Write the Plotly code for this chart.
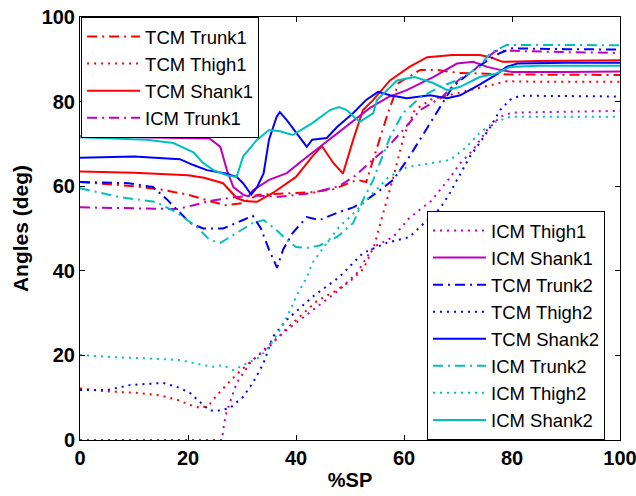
import plotly.graph_objects as go

# Joint angle trajectories over the stance phase (%SP)
tcm_trunk1_x = [0, 5, 10, 15, 20, 24, 27, 30, 33, 38, 43, 47, 51.3, 53, 55.5, 56.8, 59, 63, 66, 70, 80, 90, 100]
tcm_trunk1_y = [61, 60.5, 60, 59.2, 58, 56.5, 55.5, 56, 58, 58.3, 58.6, 59.3, 61.5, 61, 71, 76.4, 84.4, 87.5, 87.5, 86.8, 86.4, 86.3, 86.3]

tcm_thigh1_x = [0, 5, 10, 15, 18, 21, 22.5, 24, 26, 29, 32, 35, 38, 41, 44, 47, 50, 52.5, 54.5, 56, 58, 60, 62, 65, 70, 75, 79, 85, 100]
tcm_thigh1_y = [12.2, 11.5, 11.2, 10.5, 9.5, 8, 7.5, 8.5, 11.5, 15.5, 19, 22, 26, 29.5, 33, 35, 37.5, 40.5, 46, 53, 62, 72, 78, 80.5, 82, 83.5, 84.8, 84.7, 84.7]

tcm_shank1_x = [0, 10, 20, 23, 26.5, 29, 30.5, 32.8, 35.7, 40, 43, 44.8, 46.9, 48.7, 50.6, 52.4, 54.3, 57.4, 61, 64.3, 69, 74, 76, 78.3, 85, 100]
tcm_shank1_y = [63.5, 63.2, 62.6, 62, 60.7, 57.2, 56.5, 56.3, 58.4, 62.2, 67, 69.5, 65.5, 63, 71, 78, 80.4, 85, 88.2, 90.5, 91, 91, 90.5, 89.4, 89.6, 89.8]

icm_trunk1_x = [0, 10, 18, 21, 24, 28, 32, 37, 43, 48, 51, 54, 57, 60, 63, 67, 70, 73, 75.5, 77, 80, 90, 100]
icm_trunk1_y = [55, 54.8, 54.6, 55.5, 56.5, 57.3, 57.8, 57.5, 58.4, 60, 62.5, 66, 69.3, 73.5, 78, 81, 85, 87.5, 90.5, 92, 92, 91.7, 91.5]

icm_thigh1_x = [0, 26.3, 26.6, 27, 27.8, 29, 31.5, 34.6, 38.3, 43, 48, 51.3, 54.3, 58, 61, 65, 68.5, 70.4, 72.8, 75.4, 77.8, 80, 90, 100]
icm_thigh1_y = [0, 0, 3, 6, 9, 13.5, 18.2, 22, 26, 30.7, 35.5, 39.5, 45.6, 48, 52.5, 56.5, 62, 65.4, 68.6, 73.3, 76.4, 77.4, 77.6, 77.8]

icm_shank1_x = [0, 10, 20, 24, 26, 27.2, 28.4, 30.2, 31.2, 32, 35, 38.3, 41.3, 44.4, 47.6, 50.6, 53.7, 57, 60.5, 65.4, 69.8, 72.8, 75.4, 77.8, 80, 90, 100]
icm_shank1_y = [71.8, 71.6, 71.5, 71.3, 69.3, 63.8, 59.8, 58, 57.6, 59, 61.5, 63.1, 66.2, 69.3, 72.6, 75.6, 78.5, 81, 82.7, 85.8, 89, 89.4, 88.2, 87.5, 87, 87, 87.1]

tcm_trunk2_x = [0, 5, 9, 13.5, 16, 18, 20.4, 22.8, 26.5, 30.2, 32, 33.5, 35, 36.5, 37.6, 39.4, 42, 44.4, 47.6, 50.6, 53, 55.5, 58, 61, 64, 66.7, 69, 72.2, 74.6, 77.8, 80, 90, 100]
tcm_trunk2_y = [61, 60.8, 60.7, 59.8, 57, 54.4, 51.3, 50, 50, 52, 53, 50, 45, 40.7, 45, 49, 52.7, 52, 53.7, 55, 56.7, 59, 61.5, 67, 73.3, 78.7, 83.5, 86.8, 89, 91.5, 92.6, 92.4, 92.3]

tcm_thigh2_x = [0, 5, 9.3, 15.4, 18.5, 20.4, 22.2, 24, 26, 27.8, 30.2, 32, 34, 35.7, 38.3, 43, 48, 52.4, 56.8, 61, 63.5, 66.7, 68.5, 70.4, 72.2, 74, 76, 77.8, 79.6, 81.5, 90, 100]
tcm_thigh2_y = [11.8, 11.8, 13, 13.5, 12.3, 11.1, 9, 7, 7, 7.6, 10.2, 13.5, 18.2, 24.4, 28.4, 33.8, 38.5, 44.2, 46.6, 48, 51, 54.8, 58.4, 63, 67, 70.2, 74, 78, 80.4, 81.4, 81.3, 81.2]

tcm_shank2_x = [0, 10, 18.5, 21, 23.5, 27, 29, 30.2, 31.7, 32.8, 34, 35, 36.4, 37, 38.3, 40, 42, 43, 45.7, 47.6, 50.6, 53, 55.2, 57.4, 60.5, 64.8, 68, 70.4, 74, 77, 79, 81, 90, 100]
tcm_shank2_y = [66.7, 67, 66.4, 65, 63.8, 63, 62.2, 60.7, 58, 59.8, 63, 71, 76.4, 77.5, 75.6, 72.6, 69.3, 71, 71.4, 74, 77.3, 80.4, 82.3, 81.5, 80.8, 81.5, 80.8, 81.5, 84, 86.3, 88.2, 89, 89.2, 89.2]

icm_trunk2_x = [0, 7.4, 14, 18, 21.6, 24, 26, 27.8, 32, 34, 36.4, 38.3, 40, 42, 44.4, 47.6, 50.6, 52.4, 54.3, 57.4, 59.8, 63, 66.7, 69.8, 74, 76, 79, 90, 100]
icm_trunk2_y = [59.5, 57.4, 56.3, 53.7, 50.4, 47.3, 46.6, 48, 51.3, 52, 49.6, 47.3, 45.6, 45.4, 46, 48, 51.3, 56.7, 61.5, 71.6, 77.3, 81, 83.5, 85, 88.2, 91.5, 93.4, 93.4, 93.3]

icm_thigh2_x = [0, 6, 12.3, 18.5, 22.8, 24.7, 26.5, 28.4, 31, 33.3, 35, 37, 38.3, 40, 42, 43, 45.7, 48, 51, 54, 57, 60.5, 65.4, 68.5, 71.6, 74, 76.5, 79.6, 90, 100]
icm_thigh2_y = [20.1, 19.6, 19.3, 18.9, 17.7, 17.3, 17.7, 16.5, 18.2, 19.6, 22, 26, 29, 33.8, 38.5, 41.8, 46.6, 50.4, 54, 58, 62, 64.5, 65.5, 66.2, 69.3, 72.6, 75, 76.4, 76.4, 76.4]

icm_shank2_x = [0, 12.3, 17.3, 21, 22.8, 24.7, 27.2, 29, 30.2, 32.8, 35, 37, 39.4, 43, 46.3, 48, 49.4, 51.8, 54.3, 55, 58.7, 62, 65.4, 68, 70.4, 74, 77, 79.6, 85, 100]
icm_shank2_y = [71.6, 71, 70.2, 68, 65.5, 63.8, 62.6, 62.2, 67, 71, 73.3, 73, 72.1, 74.9, 78, 78.7, 78, 75.2, 77.3, 80.4, 85, 85.8, 84.4, 82.7, 83.5, 85.8, 86.6, 88.2, 88.5, 88.5]

RED = "#FF0000"
MAG = "#BF00BF"
BLUE = "#0000FF"
CYAN = "#00BFBF"
DASHDOT = "10px,5px,2px,5px"
DOT = "2px,5px"

series = [
    ("TCM Trunk1", tcm_trunk1_x, tcm_trunk1_y, RED, DASHDOT, "legend"),
    ("TCM Thigh1", tcm_thigh1_x, tcm_thigh1_y, RED, DOT, "legend"),
    ("TCM Shank1", tcm_shank1_x, tcm_shank1_y, RED, "solid", "legend"),
    ("ICM Trunk1", icm_trunk1_x, icm_trunk1_y, MAG, DASHDOT, "legend"),
    ("ICM Thigh1", icm_thigh1_x, icm_thigh1_y, MAG, DOT, "legend2"),
    ("ICM Shank1", icm_shank1_x, icm_shank1_y, MAG, "solid", "legend2"),
    ("TCM Trunk2", tcm_trunk2_x, tcm_trunk2_y, BLUE, DASHDOT, "legend2"),
    ("TCM Thigh2", tcm_thigh2_x, tcm_thigh2_y, BLUE, DOT, "legend2"),
    ("TCM Shank2", tcm_shank2_x, tcm_shank2_y, BLUE, "solid", "legend2"),
    ("ICM Trunk2", icm_trunk2_x, icm_trunk2_y, CYAN, DASHDOT, "legend2"),
    ("ICM Thigh2", icm_thigh2_x, icm_thigh2_y, CYAN, DOT, "legend2"),
    ("ICM Shank2", icm_shank2_x, icm_shank2_y, CYAN, "solid", "legend2"),
]

fig = go.Figure()
for name, xs, ys, color, dash, leg in series:
    fig.add_trace(go.Scatter(
        x=xs, y=ys, name=name, mode="lines",
        line=dict(color=color, width=2, dash=dash),
        legend=leg,
    ))

FONT = "Liberation Sans, Arial"

legend_style = dict(
    bgcolor="white", bordercolor="black", borderwidth=1,
    font=dict(family=FONT, size=18.5, color="black"),
    itemwidth=53, tracegroupgap=0,
)

axis_style = dict(
    range=[0, 100], showgrid=False, zeroline=False, automargin=False,
    showline=True, linecolor="black", linewidth=1, mirror="ticks",
    ticks="inside", ticklen=5, tickcolor="black",
    tickvals=[0, 20, 40, 60, 80, 100], ticklabeloverflow="allow",
    tickfont=dict(family=FONT, size=20, color="black", weight="bold"),
)

fig.update_layout(
    width=636, height=496,
    margin=dict(l=80, r=16, t=17, b=56),
    paper_bgcolor="white", plot_bgcolor="white",
    xaxis=dict(axis_style, title=dict(text="%SP", standoff=4,
               font=dict(family=FONT, size=20, color="black", weight="bold"))),
    yaxis=dict(axis_style, title=dict(text="Angles (deg)", standoff=7,
               font=dict(family=FONT, size=21, color="black", weight="bold"))),
    legend=dict(legend_style, x=0.002, y=1, xanchor="left", yanchor="top"),
    legend2=dict(legend_style, x=0.6426, y=0, xanchor="left", yanchor="bottom"),
)

fig.write_html("out.html")
